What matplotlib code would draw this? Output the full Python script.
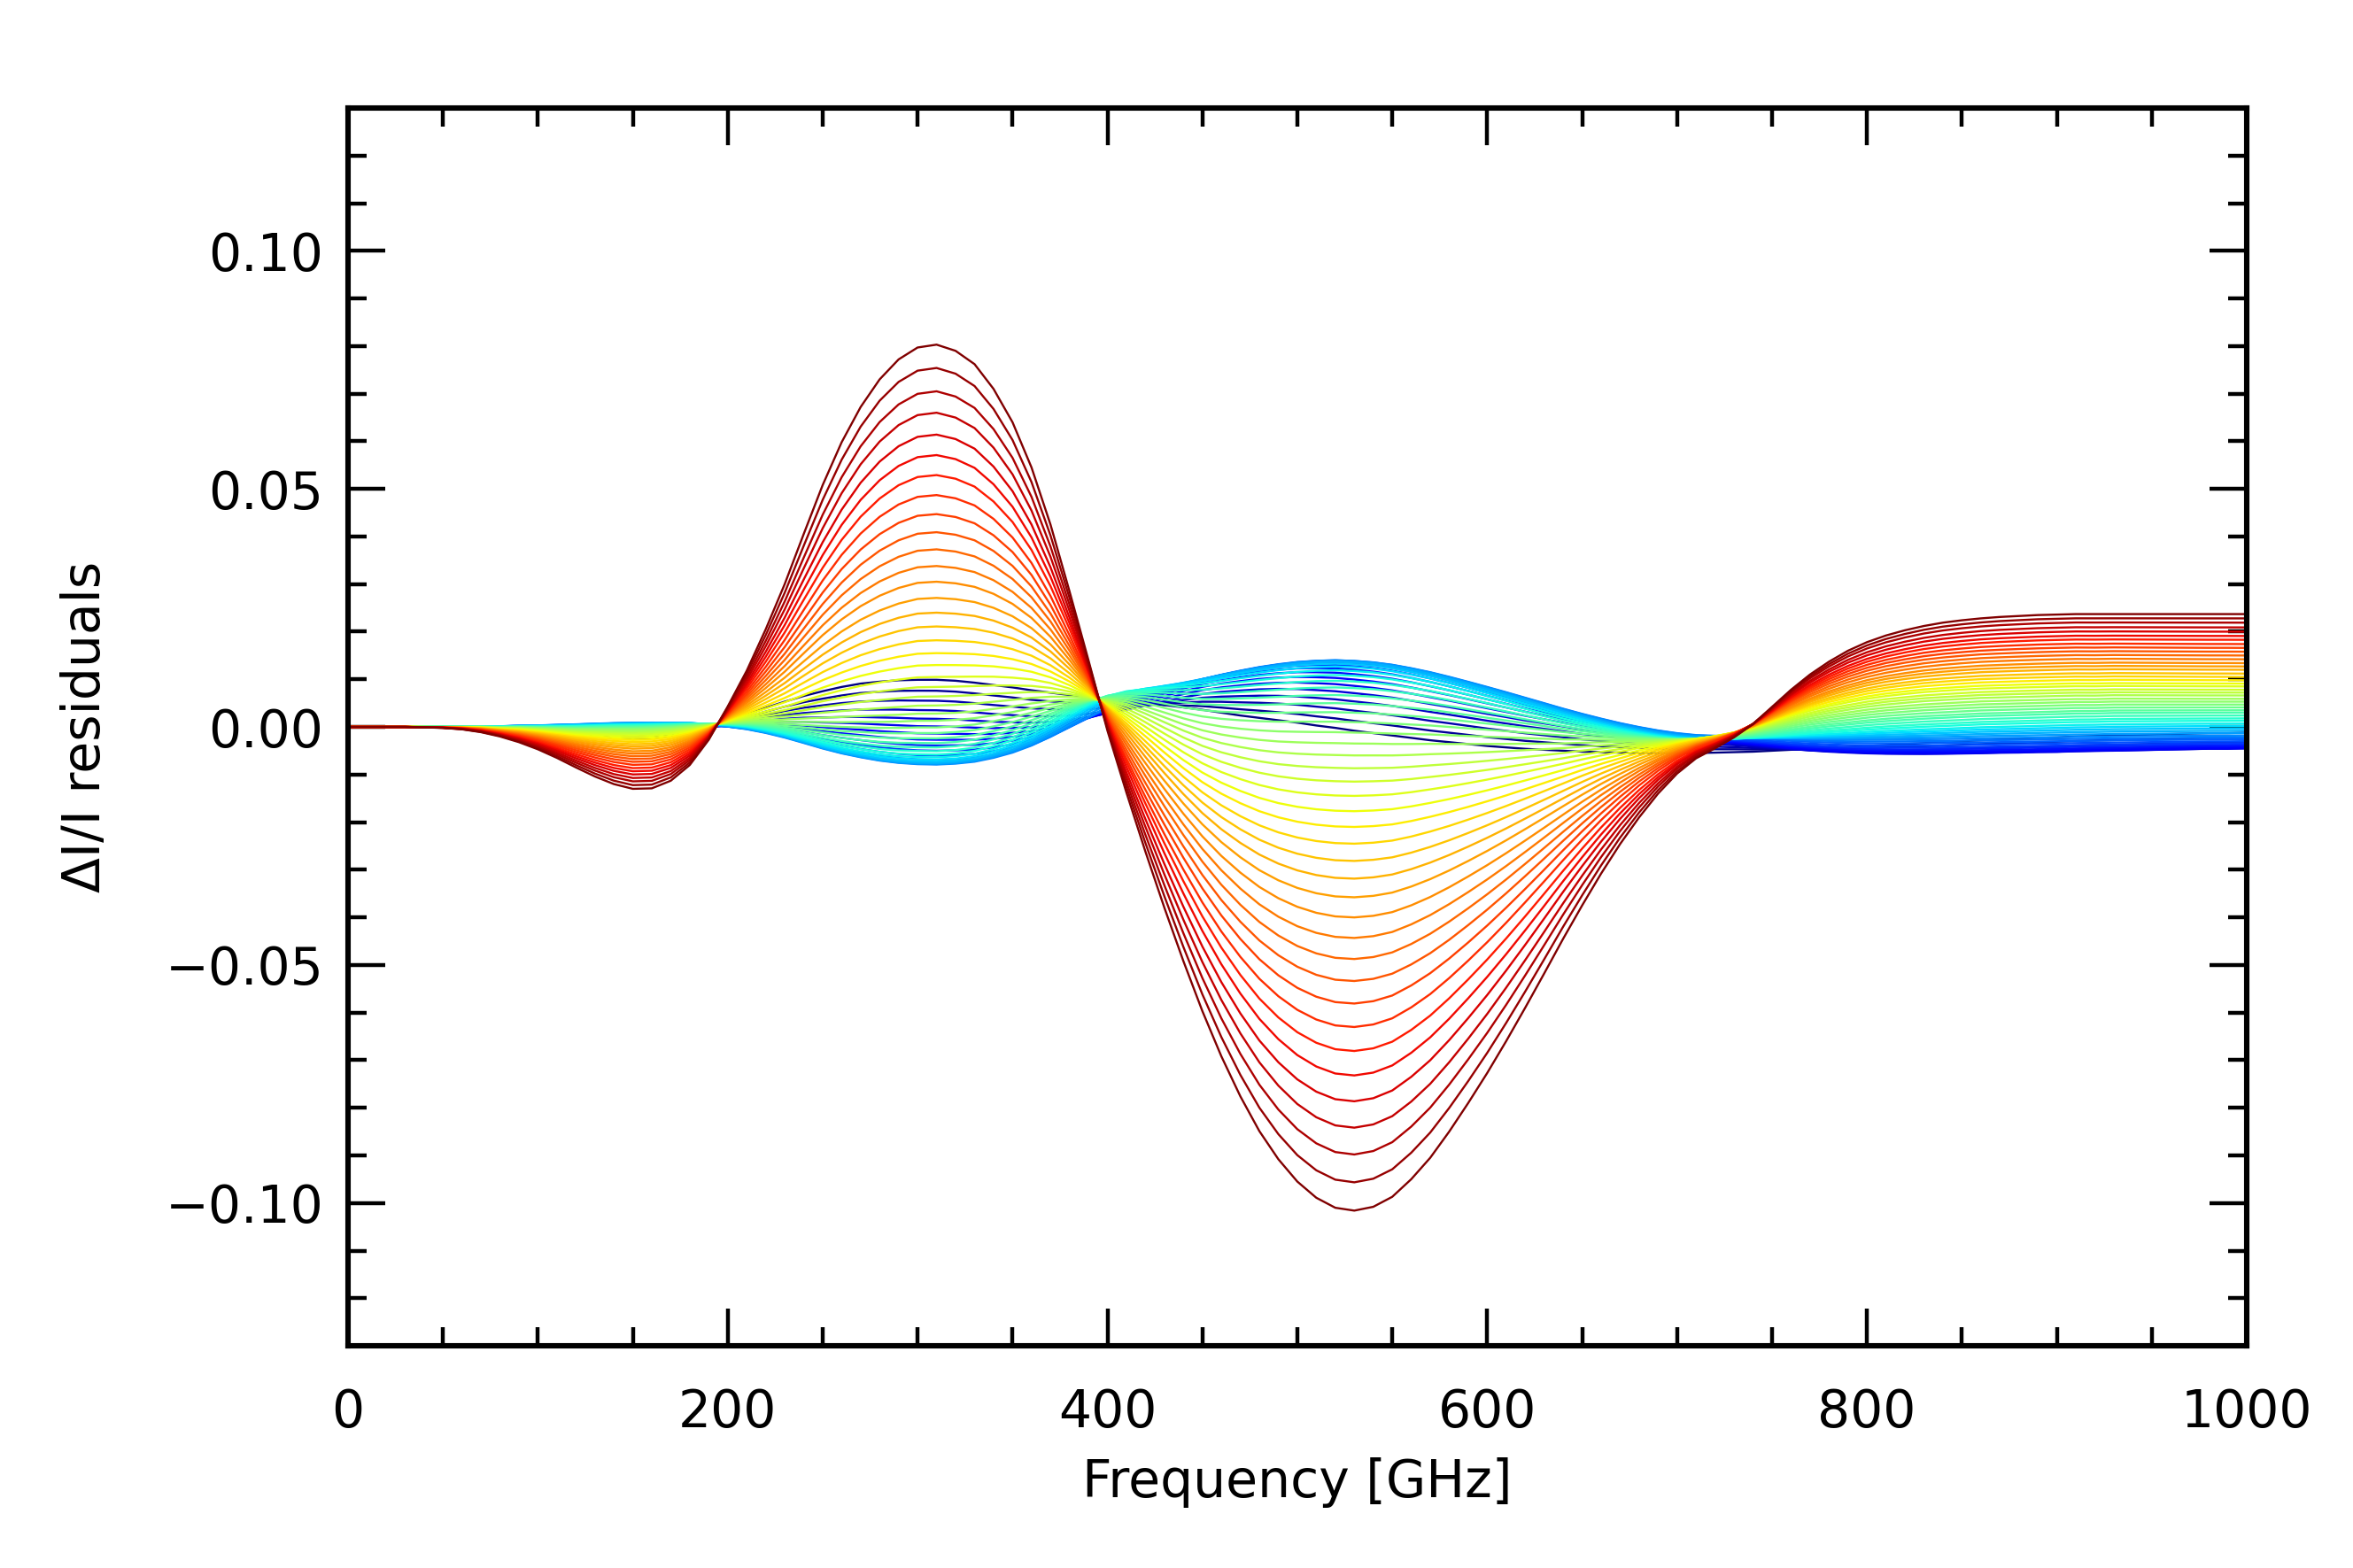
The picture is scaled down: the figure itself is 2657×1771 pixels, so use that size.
import numpy as np
import matplotlib
matplotlib.use('Agg')
import matplotlib.pyplot as plt
from matplotlib.ticker import FuncFormatter

# frequency grid of the sampled profiles [GHz]
freq = np.arange(0, 1001, 10)

# outermost dark red curve
red_profile = [
    0.0000, 0.0000, 0.0000, 0.0000, -0.0001, -0.0002, -0.0005, -0.0011, -0.0020, -0.0032,
    -0.0047, -0.0065, -0.0085, -0.0104, -0.0120, -0.0130, -0.0129, -0.0113, -0.0080, -0.0027,
    0.0043, 0.0118, 0.0205, 0.0300, 0.0405, 0.0508, 0.0598, 0.0672, 0.0730, 0.0772,
    0.0797, 0.0803, 0.0790, 0.0762, 0.0710, 0.0640, 0.0545, 0.0425, 0.0285, 0.0140,
    -0.0008, -0.0138, -0.0262, -0.0380, -0.0492, -0.0597, -0.0692, -0.0776, -0.0849, -0.0908,
    -0.0955, -0.0989, -0.1010, -0.1016, -0.1008, -0.0987, -0.0950, -0.0905, -0.0850, -0.0790,
    -0.0727, -0.0660, -0.0590, -0.0518, -0.0445, -0.0375, -0.0308, -0.0246, -0.0190, -0.0140,
    -0.0098, -0.0066, -0.0045, -0.0022, 0.0006, 0.0042, 0.0078, 0.0110, 0.0137, 0.0160,
    0.0178, 0.0192, 0.0203, 0.0212, 0.0219, 0.0224, 0.0228, 0.0231, 0.0233, 0.0235,
    0.0236, 0.0237, 0.0237, 0.0237, 0.0237, 0.0237, 0.0237, 0.0237, 0.0237, 0.0237,
    0.0237]

# middle (light green) curve
green_profile = [
    0.0000, 0.0000, 0.0000, 0.0000, 0.0000, 0.0000, 0.0000, 0.0000, -0.0001, -0.0001,
    -0.0002, -0.0003, -0.0004, -0.0004, -0.0004, -0.0004, -0.0003, -0.0001, 0.0002, 0.0005,
    0.0008, 0.0009, 0.0008, 0.0006, 0.0004, 0.0002, 0.0000, -0.0001, -0.0002, -0.0002,
    -0.0001, -0.0001, 0.0001, 0.0005, 0.0012, 0.0020, 0.0030, 0.0040, 0.0049, 0.0056,
    0.0060, 0.0058, 0.0050, 0.0040, 0.0030, 0.0022, 0.0017, 0.0014, 0.0012, 0.0011,
    0.0011, 0.0011, 0.0011, 0.0010, 0.0009, 0.0007, 0.0005, 0.0003, 0.0000, -0.0003,
    -0.0006, -0.0009, -0.0012, -0.0015, -0.0018, -0.0020, -0.0022, -0.0024, -0.0025, -0.0026,
    -0.0026, -0.0025, -0.0022, -0.0018, -0.0012, -0.0005, 0.0002, 0.0009, 0.0015, 0.0020,
    0.0025, 0.0029, 0.0032, 0.0035, 0.0037, 0.0039, 0.0041, 0.0042, 0.0043, 0.0044,
    0.0045, 0.0046, 0.0046, 0.0047, 0.0047, 0.0047, 0.0047, 0.0047, 0.0047, 0.0047,
    0.0047]

# darkest navy curve
navy_profile = [
    0.0000, 0.0000, 0.0000, 0.0000, 0.0000, 0.0000, -0.0001, -0.0002, -0.0003, -0.0005,
    -0.0008, -0.0011, -0.0015, -0.0019, -0.0022, -0.0024, -0.0024, -0.0020, -0.0012, -0.0001,
    0.0012, 0.0026, 0.0040, 0.0053, 0.0065, 0.0075, 0.0084, 0.0091, 0.0095, 0.0098,
    0.0099, 0.0099, 0.0097, 0.0093, 0.0088, 0.0083, 0.0077, 0.0072, 0.0067, 0.0063,
    0.0060, 0.0056, 0.0051, 0.0046, 0.0041, 0.0036, 0.0030, 0.0024, 0.0019, 0.0014,
    0.0009, 0.0003, -0.0002, -0.0008, -0.0013, -0.0018, -0.0023, -0.0028, -0.0032, -0.0036,
    -0.0040, -0.0043, -0.0046, -0.0048, -0.0050, -0.0052, -0.0053, -0.0054, -0.0055, -0.0055,
    -0.0055, -0.0055, -0.0054, -0.0053, -0.0052, -0.0050, -0.0048, -0.0046, -0.0044, -0.0042,
    -0.0040, -0.0038, -0.0036, -0.0034, -0.0032, -0.0030, -0.0028, -0.0026, -0.0025, -0.0023,
    -0.0022, -0.0020, -0.0019, -0.0018, -0.0017, -0.0016, -0.0015, -0.0014, -0.0013, -0.0013,
    -0.0012]

# each curve read at 310, 520 and 1000 GHz, from dark red (first) to navy (last)
val_310 = [0.0803, 0.0754, 0.0705, 0.0660, 0.0614, 0.0571, 0.0529, 0.0487, 0.0447, 0.0409,
           0.0373, 0.0338, 0.0305, 0.0271, 0.0240, 0.0211, 0.0182, 0.0155, 0.0130, 0.0105,
           0.0084, 0.0064, 0.0045, 0.0028, 0.0013, -0.0001, -0.0013, -0.0024, -0.0034, -0.0043,
           -0.0051, -0.0058, -0.0064, -0.0069, -0.0073, -0.0076, -0.0078, -0.0079, -0.0075, -0.0069,
           -0.0060, -0.0050, -0.0039, -0.0027, -0.0014, 0.0001, 0.0017, 0.0035, 0.0055, 0.0076,
           0.0099]
val_520 = [-0.1010, -0.0951, -0.0893, -0.0837, -0.0782, -0.0728, -0.0677, -0.0627, -0.0578, -0.0531,
           -0.0485, -0.0441, -0.0398, -0.0356, -0.0317, -0.0280, -0.0244, -0.0209, -0.0176, -0.0144,
           -0.0114, -0.0086, -0.0059, -0.0034, -0.0011, 0.0011, 0.0031, 0.0050, 0.0067, 0.0083,
           0.0097, 0.0109, 0.0119, 0.0127, 0.0133, 0.0137, 0.0139, 0.0140, 0.0140, 0.0138,
           0.0135, 0.0130, 0.0123, 0.0114, 0.0103, 0.0090, 0.0075, 0.0058, 0.0039, 0.0018,
           -0.0002]
val_1000 = [0.0237, 0.0228, 0.0219, 0.0209, 0.0200, 0.0191, 0.0183, 0.0174, 0.0166, 0.0158,
            0.0150, 0.0142, 0.0134, 0.0127, 0.0120, 0.0112, 0.0105, 0.0098, 0.0091, 0.0085,
            0.0078, 0.0072, 0.0066, 0.0059, 0.0053, 0.0047, 0.0041, 0.0035, 0.0030, 0.0024,
            0.0018, 0.0013, 0.0007, 0.0002, -0.0003, -0.0008, -0.0013, -0.0018, -0.0022, -0.0026,
            -0.0030, -0.0034, -0.0037, -0.0040, -0.0043, -0.0045, -0.0045, -0.0040, -0.0032, -0.0022,
            -0.0012]


def main():
    basis = np.array([red_profile, navy_profile, green_profile])
    anchors = [np.where(freq == f)[0][0] for f in (310, 520, 1000)]
    M = basis[:, anchors].T
    targets = np.array([val_310, val_520, val_1000])
    coef = np.linalg.solve(M, targets)
    curves = coef.T @ basis

    n = len(curves)
    fig = plt.figure(figsize=(13.285, 8.855), dpi=200)
    ax = fig.add_axes([0.1479, 0.1417, 0.8069, 0.7894])

    # navy first, dark red last
    for k in range(n - 1, -1, -1):
        ax.plot(freq, curves[k], color=plt.cm.jet((n - 1 - k) / (n - 1)), lw=0.85,
                solid_joinstyle='round')

    ax.set_xlim(0, 1000)
    ax.set_ylim(-0.13, 0.13)
    ax.set_xticks(np.arange(0, 1001, 200))
    ax.set_xticks(np.arange(0, 1001, 50), minor=True)
    ax.set_yticks([-0.10, -0.05, 0.0, 0.05, 0.10])
    ax.set_yticks(np.arange(-0.13, 0.1301, 0.01), minor=True)
    ax.yaxis.set_major_formatter(FuncFormatter(lambda v, p: ('%.2f' % v).replace('-', '\u2212')))
    ax.xaxis.set_major_formatter(FuncFormatter(lambda v, p: '%d' % v))

    ax.tick_params(which='both', direction='in', top=True, right=True, width=1.6,
                   labelsize=21)
    ax.tick_params(which='major', length=15)
    ax.tick_params(which='minor', length=7.5)
    ax.tick_params(axis='x', pad=17)
    ax.tick_params(axis='y', pad=10)
    for s in ax.spines.values():
        s.set_linewidth(2.2)

    ax.set_xlabel('Frequency [GHz]', fontsize=21, labelpad=8)
    ax.set_ylabel('\u0394I/I residuals', fontsize=21, labelpad=22)

    fig.savefig('out.png', dpi=200)


if __name__ == '__main__':
    main()
